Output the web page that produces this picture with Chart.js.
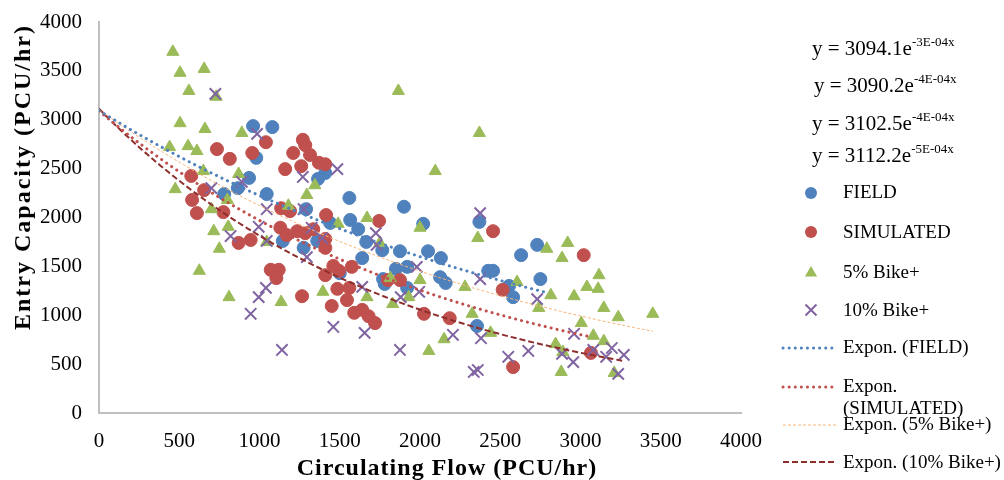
<!DOCTYPE html>
<html><head><meta charset="utf-8">
<script src="https://cdn.jsdelivr.net/npm/chart.js@4.4.1/dist/chart.umd.min.js"></script>
<style>
html,body{margin:0;padding:0;background:#fff;}
#wrap{position:relative;width:1004px;height:480px;overflow:hidden;font-family:"Liberation Serif","Times New Roman",serif;color:#000;}
canvas{position:absolute;left:0;top:0;}
.t{position:absolute;white-space:nowrap;}
.eq{font-size:21px;line-height:24px;}
.eq sup{font-size:13px;vertical-align:0;position:relative;top:-9px;}
.lg{font-size:19px;line-height:22px;}
.ttl{font-weight:bold;font-size:24px;line-height:28px;}
</style></head>
<body><div id="wrap"><canvas id="c" width="1004" height="480"></canvas>
<div class="t ttl" style="left:447px;top:453px;transform:translateX(-50%);letter-spacing:1px;">Circulating Flow (PCU/hr)</div>
<div class="t ttl" style="left:22px;top:177px;transform:translate(-50%,-50%) rotate(-90deg);letter-spacing:2px;">Entry Capacity (PCU/hr)</div>
<div id="legend"></div>
<svg id="marks" width="1004" height="480" style="position:absolute;left:0;top:0;pointer-events:none"></svg>
</div>
<script>
// ---- data ----
const fieldX = [960,1080,980,935,1410,1365,865,780,1045,1290,1560,1565,1440,1615,1900,2020,2370,1145,1275,1360,1665,1765,1875,2050,2130,1640,1500,1770,1780,1850,1920,2125,2160,2425,2455,2730,2630,2750,2555,2580,2355,1920];
const fieldY = [2935,2925,2610,2405,2455,2395,2300,2240,2240,2085,2200,1975,1945,1880,2110,1935,1955,1760,1690,1760,1750,1665,1655,1655,1585,1585,1430,1370,1320,1475,1495,1390,1330,1455,1455,1720,1615,1370,1300,1185,890,1280];
const simX = [1040,1270,1285,735,815,955,1210,1315,1260,1160,1370,1410,575,655,580,610,775,1135,1190,1415,1130,1170,1235,1285,1335,870,945,1410,1410,1745,2455,1070,1120,1105,1265,1460,1495,1575,1410,1485,1560,1450,1545,1590,1640,1680,1720,1800,1875,2025,2185,2515,2580,3020,3065];
const simY = [2770,2795,2740,2700,2600,2660,2660,2640,2525,2495,2560,2545,2425,2280,2180,2045,2055,2095,2065,2025,1895,1820,1860,1840,1880,1740,1770,1780,1690,1965,1860,1465,1465,1380,1195,1505,1455,1495,1410,1270,1280,1095,1155,1025,1055,990,920,1360,1360,1015,970,1260,470,1615,615];
const bike5X = [460,505,655,560,730,505,660,890,440,555,610,650,870,475,800,700,1180,1295,1345,1490,1670,1865,2370,2095,2000,1750,715,805,750,625,810,1135,1045,1395,2360,2790,2920,2885,3115,2000,1815,2280,2605,2740,2815,2960,3040,3110,3145,3235,3450,1670,1930,1830,2325,2440,2150,2055,3005,3080,3145,2845,2890,2880,3210];
const bike5Y = [3695,3480,3520,3295,3235,2965,2905,2865,2720,2730,2680,2475,2445,2290,2180,2085,2120,2230,2330,1935,1995,3295,2865,2475,1895,1740,1860,1905,1680,1455,1185,1135,1750,1240,1790,1680,1740,1585,1410,1360,1380,1290,1340,1075,1205,1195,1290,1270,1075,980,1015,1185,1185,1115,1015,820,755,635,920,790,735,705,625,420,410];
const bike10X = [725,985,1485,1270,890,700,1045,1275,995,820,1045,1325,1295,1040,995,945,1140,1460,1655,1640,1390,1725,1730,1980,2375,2375,1880,1995,1875,2205,2380,2730,2550,2675,2335,2360,2960,3080,3195,2885,2955,3160,3270,3235];
const bike10Y = [3265,2855,2495,2415,2365,2300,2085,2085,1905,1810,1760,1895,1595,1280,1185,1015,645,880,820,1290,1790,1840,1720,1495,2045,1370,1185,1240,645,800,765,1165,575,635,420,440,810,645,665,605,520,575,595,400];
// exponential trendlines y = A*e^(-k x)
const trendNames = ["Expon. (FIELD)","Expon. (SIMULATED)","Expon. (5% Bike+)","Expon. (10% Bike+)"];
const trendA = [3094.1, 3090.2, 3102.5, 3112.2];
const trendK = [3.3e-4, 4.5e-4, 3.8e-4, 5.4e-4];
const trendXmax = [2780, 3065, 3452, 3270];
const equations = [["3094.1","-3E-04x"],["3090.2","-4E-04x"],["3102.5","-4E-04x"],["3112.2","-5E-04x"]];
const xTicks = [0,500,1000,1500,2000,2500,3000,3500,4000];
const yTicks = [0,500,1000,1500,2000,2500,3000,3500,4000];

const C_BLUE = '#4F81BD', C_RED = '#C0504D', C_GREEN = '#9BBB59', C_PURPLE = '#8064A2';
const C_ORANGE = '#F9B47A', C_DRED = '#8E2F2D';

const pts = (xs, ys) => xs.map((x, i) => ({x, y: ys[i]}));
function trendPts(i) {
  const out = [];
  const n = 60;
  for (let j = 0; j <= n; j++) {
    const x = trendXmax[i] * j / n;
    out.push({x, y: trendA[i] * Math.exp(-trendK[i] * x)});
  }
  return out;
}
const trendStyle = [
  {borderColor: C_BLUE, borderWidth: 3, borderDash: [0.1, 6], borderCapStyle: 'round'},
  {borderColor: C_RED, borderWidth: 3, borderDash: [0.1, 6], borderCapStyle: 'round'},
  {borderColor: C_ORANGE, borderWidth: 1, borderDash: [3, 2], borderCapStyle: 'butt'},
  {borderColor: C_DRED, borderWidth: 2, borderDash: [6, 3], borderCapStyle: 'butt'}
];

const datasets = [
  {label: 'FIELD', data: pts(fieldX, fieldY), pointStyle: 'circle', pointRadius: 6.5, backgroundColor: C_BLUE, borderColor: C_BLUE, pointBorderWidth: 1, order: 4},
  {label: 'SIMULATED', data: pts(simX, simY), pointStyle: 'circle', pointRadius: 6.5, backgroundColor: C_RED, borderColor: C_RED, pointBorderWidth: 1, order: 3},
  {label: '5% Bike+', data: pts(bike5X, bike5Y), pointStyle: 'triangle', pointRadius: 7, backgroundColor: C_GREEN, borderColor: C_GREEN, pointBorderWidth: 1, order: 2},
  {label: '10% Bike+', data: pts(bike10X, bike10Y), pointStyle: 'crossRot', pointRadius: 8, backgroundColor: C_PURPLE, borderColor: C_PURPLE, pointBorderWidth: 2, order: 1}
];
trendNames.forEach((nm, i) => {
  datasets.push(Object.assign({label: nm, data: trendPts(i), showLine: true, pointRadius: 0, fill: false, tension: 0, order: 0}, trendStyle[i]));
});

const tickFont = {family: "'Liberation Serif', 'Times New Roman', serif", size: 21};
new Chart(document.getElementById('c'), {
  type: 'scatter',
  data: {datasets},
  options: {
    responsive: false, animation: false, devicePixelRatio: 1,
    layout: {padding: {left: 0, right: 263, top: 22, bottom: 0}},
    plugins: {legend: {display: false}, tooltip: {enabled: false}},
    scales: {
      x: {type: 'linear', min: 0, max: 4000,
          afterBuildTicks: s => { s.ticks = xTicks.map(v => ({value: v})); },
          ticks: {font: tickFont, color: '#000', padding: 16, maxRotation: 0, callback: v => String(v)},
          grid: {display: false, drawTicks: false},
          border: {display: true, color: '#BFBFBF', width: 2},
          afterFit: s => { s.height = 67; s.paddingLeft = 0; s.paddingRight = 0; }},
      y: {type: 'linear', min: 0, max: 4000,
          afterBuildTicks: s => { s.ticks = yTicks.map(v => ({value: v})); },
          ticks: {font: tickFont, color: '#000', padding: 17, callback: v => String(v)},
          grid: {display: false, drawTicks: false},
          border: {display: true, color: '#BFBFBF', width: 2},
          afterFit: s => { s.width = 99; s.paddingTop = 0; s.paddingBottom = 0; }}
    }
  }
});

// ---- legend (HTML text + SVG markers) ----
const lg = document.getElementById('legend');
const eqTops = [36, 73, 111, 143], eqLefts = [812, 814, 812, 812];
equations.forEach((e, i) => {
  const d = document.createElement('div');
  d.className = 't eq';
  d.style.left = eqLefts[i] + 'px'; d.style.top = eqTops[i] + 'px';
  d.innerHTML = 'y = ' + e[0] + 'e<sup>' + e[1] + '</sup>';
  lg.appendChild(d);
});
const items = [
  {text: 'FIELD', top: 181, mk: 'circle', color: C_BLUE, cy: 193},
  {text: 'SIMULATED', top: 221, mk: 'circle', color: C_RED, cy: 232},
  {text: '5% Bike+', top: 261, mk: 'tri', color: C_GREEN, cy: 273},
  {text: '10% Bike+', top: 299, mk: 'x', color: C_PURPLE, cy: 310},
  {text: trendNames[0], top: 336, mk: 'line', st: 0, cy: 348},
  {text: 'Expon.<br>(SIMULATED)', top: 375, mk: 'line', st: 1, cy: 387},
  {text: trendNames[2], top: 413, mk: 'line', st: 2, cy: 425},
  {text: trendNames[3], top: 451, mk: 'line', st: 3, cy: 462}
];
const svg = document.getElementById('marks');
let s = '';
items.forEach(it => {
  const d = document.createElement('div');
  d.className = 't lg';
  d.style.left = '843px'; d.style.top = it.top + 'px';
  d.innerHTML = it.text;
  lg.appendChild(d);
  const cx = 811, cy = it.cy;
  if (it.mk === 'circle') s += `<circle cx="${cx}" cy="${cy}" r="6" fill="${it.color}"/>`;
  else if (it.mk === 'tri') s += `<polygon points="${cx},${cy-7} ${cx+6.1},${cy+3.5} ${cx-6.1},${cy+3.5}" fill="${it.color}"/>`;
  else if (it.mk === 'x') s += `<path d="M${cx-5.5},${cy-5.5}L${cx+5.5},${cy+5.5}M${cx+5.5},${cy-5.5}L${cx-5.5},${cy+5.5}" stroke="${it.color}" stroke-width="2"/>`;
  else {
    const t = trendStyle[it.st];
    s += `<line x1="783" y1="${cy}" x2="837" y2="${cy}" stroke="${t.borderColor}" stroke-width="${t.borderWidth}" stroke-dasharray="${t.borderDash.join(',')}" stroke-linecap="${t.borderCapStyle}"/>`;
  }
});
svg.innerHTML = s;
</script>
</body></html>
